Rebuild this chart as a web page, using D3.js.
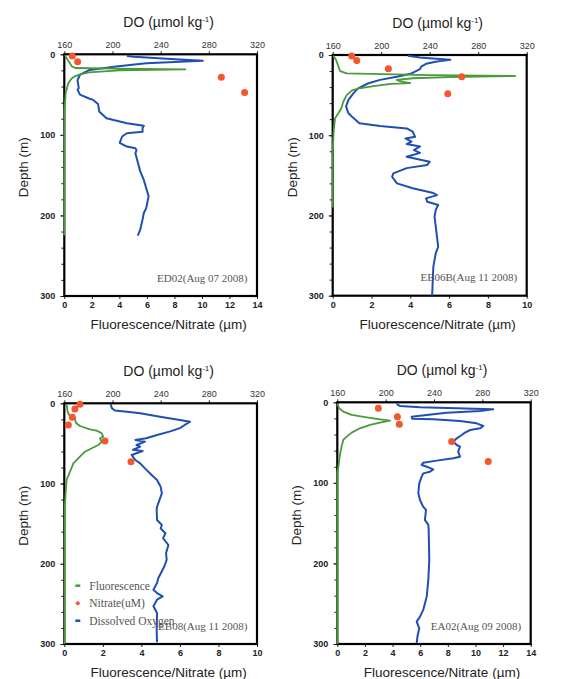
<!DOCTYPE html>
<html>
<head>
<meta charset="utf-8">
<script src="https://cdn.jsdelivr.net/npm/d3@7"></script>
<style>
  body { margin: 0; background: #fff; }
  text { font-family: "Liberation Sans", Arial, sans-serif; }
  .station, .legend text { font-family: "Liberation Serif", "DejaVu Serif", serif; fill: #555; }
</style>
</head>
<body>
<svg width="565" height="679"></svg>
<script>
// tick values
const doTicks = [160, 200, 240, 280, 320];
const depthTicks = [0, 100, 200, 300];
const depthMinor = d3.range(0, 301, 20);

// ED02 (Aug 07 2008) - [value, depth]
const ed02Oxygen = [[212,2],[218,3],[245,5.5],[275,8],[228,11],[203,15],[181,19.5],[178,21.5],[173,25.6],[171,32],[172,42],[171,44],[173,50],[180,54.6],[184,56.6],[188,61.6],[189,71],[195,79.3],[212,85.5],[226,88.8],[225,91],[225,96],[212,98],[208,102],[206,110],[212,114.5],[219,116.5],[220,119],[219,123],[220,128],[221,134],[223,145],[226,156],[230,176],[228,191],[226,197],[225,205],[223,218],[221,225]];
const ed02Fluor = [[0.05,1],[0.17,5],[0.41,11],[0.55,15],[0.8,17],[4,17.8],[8.8,18.6],[4,20],[1.8,22.5],[1.2,24.5],[0.8,27],[0.53,30],[0.29,36],[0.1,48],[0.02,69],[0,100],[0,225]];
const ed02Nitrate = [[0.58,2.1],[0.97,9.1],[11.41,28.5],[13.1,47.5]];

// EB06B (Aug 11 2008)
const eb06bOxygen = [[222,1],[232,3],[240,4],[257,6],[246,8],[237,11],[233,14.5],[232,17.5],[225,23],[213,27],[199,31],[189,35.5],[181,41.6],[177,47.8],[173,56],[171,64],[173,72.7],[176,77],[182,85],[199,88.6],[221,91.5],[226,95.6],[228,102],[220,104],[225,108],[221,111],[232,114],[227,118.5],[232,122],[221,126.8],[240,133],[238,137],[221,141],[210,147.5],[209,151.7],[213,160],[226,166],[243,172],[246,174.6],[237,178.7],[238,183],[247,187],[245,193],[244,201.5],[245,214],[247,239],[245,247],[243,264],[242,300]];
const eb06bFluor = [[0.03,1],[0.17,6],[0.29,14],[0.38,20],[0.72,23],[5,25],[9.4,26.2],[6,27.5],[4.15,29],[3.3,31],[3.5,33],[4.0,35],[3.0,36],[2.1,38.7],[1.3,42],[1.0,44],[0.72,50],[0.55,58],[0.45,66],[0.29,72.6],[0.12,79],[0.05,95],[0,120],[0,190]];
const eb06bNitrate = [[0.98,1.2],[1.24,7],[2.87,17],[6.65,27],[5.93,48.3]];

// EB08 (Aug 11 2008)
const eb08Oxygen = [[198.5,1],[199.4,6],[202,9],[212,10.5],[223,12.5],[239.5,16.7],[256,20.8],[264.4,23],[260,27],[256,31],[248,35],[237,39.5],[228,43.6],[219,45.7],[227,47.8],[220,52],[223,54],[217,58],[225,59.5],[216,64.5],[219,70.7],[223,74.9],[227,81.1],[232.5,89.4],[237,95.6],[240,103.9],[241,112.3],[239,120.6],[237,128.9],[236.7,133],[237,145.5],[241,151.7],[240,156],[244,162],[242,168],[246.4,176.6],[244.5,187],[245,195],[243,203.4],[239.5,213.7],[238,218],[237,224],[234,232.4],[237,236.5],[241.7,240.7],[237,244.8],[234,253],[237,261.4],[236.7,284],[237,298]];
const eb08Fluor = [[0.12,1],[0.17,10.5],[0.3,16.7],[0.55,18.8],[0.6,24.2],[0.81,28.3],[1.33,32.5],[1.68,34.1],[1.94,37.4],[2.02,41.6],[1.85,43.6],[1.94,47.8],[1.77,52],[1.42,56],[1.07,60.3],[0.81,66.5],[0.47,74.8],[0.3,85],[0.12,95.5],[0.07,112],[0.03,128],[0.02,200],[0.02,300]];
const eb08Nitrate = [[0.81,1.2],[0.55,7.1],[0.42,17.5],[0.21,27],[2.11,47],[3.46,72.8]];

// EA02 (Aug 09 2008)
const ea02Oxygen = [[209,2.1],[212,4.6],[228.4,6.2],[258.8,7.4],[280.8,8.2],[289,8.7],[278,10.8],[250.5,12.9],[233.9,15.8],[221.5,17.8],[222,20.3],[239.4,21.1],[261.5,23.2],[275.3,26.1],[280.8,29.4],[278,32.3],[270,34.4],[265.6,37.7],[263,40.6],[258.8,44.7],[256,48.9],[258.8,53],[261.5,55.1],[260,61.3],[261.5,67.5],[256,69.5],[242.2,72.4],[231.1,74.9],[229.8,77.8],[235.3,80.7],[239.4,83.2],[236.7,86.1],[231.1,88.2],[229.8,92.3],[227.8,100.6],[227,113],[228.4,121.3],[231,129.5],[233.4,133.6],[232.5,146],[235.3,152.2],[235.6,158.4],[236.1,195.6],[235.3,220.4],[234,241],[231.1,257.7],[228.4,266],[225.7,272.2],[227.8,280.5],[226.3,290.8],[225.7,299]];
const ea02Fluor = [[0,2],[0.14,7.4],[0.43,11.6],[1.04,15.7],[2.13,18.6],[3.09,21.1],[3.82,22.8],[3.09,25.2],[2.37,28.1],[1.64,32.3],[1.04,37.6],[0.68,42.6],[0.43,46.7],[0.31,55],[0.19,65.4],[0.14,71.6],[0.08,79.8],[0,88],[0,300]];
const ea02Nitrate = [[2.97,7.4],[4.35,17.8],[4.49,27.3],[8.28,48.8],[10.93,73.6]];

const panels = [
  {station: 'ED02(Aug 07 2008)', oxygen: ed02Oxygen, fluor: ed02Fluor, nitrate: ed02Nitrate, xMax: 14,
   x0: 64.3, x1: 257, y0: 54.3, y1: 296},
  {station: 'EB06B(Aug 11 2008)', oxygen: eb06bOxygen, fluor: eb06bFluor, nitrate: eb06bNitrate, xMax: 10,
   x0: 332.7, x1: 526.7, y0: 55, y1: 295.7},
  {station: 'EB08(Aug 11 2008)', oxygen: eb08Oxygen, fluor: eb08Fluor, nitrate: eb08Nitrate, xMax: 10,
   x0: 64.3, x1: 257, y0: 403.3, y1: 644, legend: true},
  {station: 'EA02(Aug 09 2008)', oxygen: ea02Oxygen, fluor: ea02Fluor, nitrate: ea02Nitrate, xMax: 14,
   x0: 337.3, x1: 530.7, y0: 402.3, y1: 644}
];

const blue = '#1f4fb3', green = '#4a9a3c', orange = '#f4562d';

const svg = d3.select('svg');

panels.forEach(p => {
  const x = d3.scaleLinear().domain([0, p.xMax]).range([p.x0, p.x1]);
  const xDo = d3.scaleLinear().domain([160, 320]).range([p.x0, p.x1]);
  const y = d3.scaleLinear().domain([0, 300]).range([p.y0, p.y1]);
  const g = svg.append('g');

  // axes
  const bottom = g.append('g').attr('transform', `translate(0,${p.y1})`)
    .call(d3.axisBottom(x).tickValues(d3.range(0, p.xMax + 1, 2)).tickSize(3).tickPadding(3));
  bottom.selectAll('text').attr('font-weight', 'bold').attr('font-size', 9).attr('fill', '#222');

  const top = g.append('g').attr('transform', `translate(0,${p.y0})`)
    .call(d3.axisTop(xDo).tickValues(doTicks).tickSize(3).tickPadding(3));
  top.selectAll('text').attr('font-size', 9).attr('fill', '#333');

  g.append('g').attr('transform', `translate(${p.x0},0)`)
    .call(d3.axisLeft(y).tickValues(depthMinor).tickSize(3).tickFormat(''));
  const left = g.append('g').attr('transform', `translate(${p.x0},0)`)
    .call(d3.axisLeft(y).tickValues(depthTicks).tickSize(4).tickPadding(5));
  left.selectAll('text').attr('font-weight', 'bold').attr('font-size', 9).attr('fill', '#222');

  g.selectAll('.domain').remove();
  g.selectAll('.tick line').attr('stroke', '#222');

  // frame
  g.append('rect')
    .attr('x', p.x0).attr('y', p.y0)
    .attr('width', p.x1 - p.x0).attr('height', p.y1 - p.y0)
    .attr('fill', 'none').attr('stroke', '#000').attr('stroke-width', 2.2);

  // titles
  const cx = (p.x0 + p.x1) / 2;
  const t = g.append('text').attr('x', cx + 8).attr('y', p.y0 - 27)
    .attr('text-anchor', 'middle').attr('font-size', 14).attr('fill', '#222');
  t.append('tspan').text('DO (\u00b5mol kg');
  t.append('tspan').attr('font-size', 8).attr('dy', -5).text('-1');
  t.append('tspan').attr('dy', 5).text(')');

  g.append('text').attr('x', cx + 8).attr('y', p.y1 + 33)
    .attr('text-anchor', 'middle').attr('font-size', 13.5).attr('fill', '#222')
    .text('Fluorescence/Nitrate (\u00b5m)');

  g.append('text')
    .attr('transform', `translate(${p.x0 - 36},${(p.y0 + p.y1) / 2 - 8}) rotate(-90)`)
    .attr('text-anchor', 'middle').attr('font-size', 13.5).attr('fill', '#222')
    .text('Depth (m)');

  // data
  const lineDo = d3.line().x(d => xDo(d[0])).y(d => y(d[1]));
  const lineFl = d3.line().x(d => x(d[0])).y(d => y(d[1]));

  g.append('path').attr('d', lineDo(p.oxygen))
    .attr('fill', 'none').attr('stroke', blue).attr('stroke-width', 2).attr('stroke-linejoin', 'round');
  g.append('path').attr('d', lineFl(p.fluor))
    .attr('fill', 'none').attr('stroke', green).attr('stroke-width', 1.8).attr('stroke-linejoin', 'round');
  g.selectAll('circle.nit').data(p.nitrate).join('circle')
    .attr('class', 'nit')
    .attr('cx', d => x(d[0])).attr('cy', d => y(d[1])).attr('r', 3.5)
    .attr('fill', orange);

  g.append('text').attr('class', 'station')
    .attr('x', p.x1 - 9.5).attr('y', p.y1 - 14.5)
    .attr('text-anchor', 'end').attr('font-size', 11)
    .text(p.station);

  if (p.legend) {
    const items = [
      {label: 'Fluorescence', type: 'line', color: green},
      {label: 'Nitrate(uM)', type: 'dot', color: orange},
      {label: 'Dissolved Oxygen', type: 'line', color: blue}
    ];
    const lg = g.append('g').attr('class', 'legend');
    items.forEach((it, i) => {
      const ly = p.y0 + 182.4 + i * 17.5;
      if (it.type === 'line') {
        lg.append('line').attr('x1', p.x0 + 11).attr('x2', p.x0 + 16)
          .attr('y1', ly).attr('y2', ly).attr('stroke', it.color).attr('stroke-width', 2.5);
      } else {
        lg.append('circle').attr('cx', p.x0 + 13.5).attr('cy', ly).attr('r', 2).attr('fill', it.color);
      }
      lg.append('text').attr('x', p.x0 + 25).attr('y', ly + 4)
        .attr('font-size', 11.5).text(it.label);
    });
  }
});
</script>
</body>
</html>
